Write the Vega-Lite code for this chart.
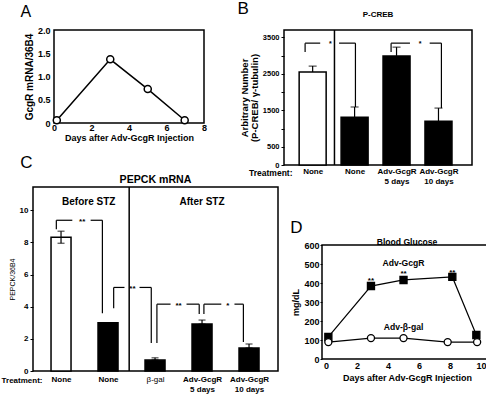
{
"$schema":"https://vega.github.io/schema/vega-lite/v6.json",
"background":"white",
"padding":{"left":0,"top":0,"right":0,"bottom":0},
"config":{
 "font":"Liberation Sans",
 "view":{"stroke":null},
 "axis":{"grid":false,"domain":false,"labelColor":"black","titleColor":"black","tickColor":"black","labelFontWeight":"bold","titleFontWeight":"bold","labelFlush":false,"labelOverlap":false,"tickCount":50},
 "title":{"color":"black","fontWeight":"bold","baseline":"alphabetic"}
},
"hconcat":[
 {"vconcat":[
  {"hconcat":[
   {"width":1,"height":1,"data":{"values":[]},"mark":{"type":"point","opacity":0}},
   {"width":150,"height":93,"view":{"stroke":"black","strokeWidth":1.5},
    "title":{"text":"A","anchor":"start","frame":"bounds","fontSize":16,"fontWeight":"normal","offset":6,"dx":-4},
    "data":{"values":[{"day":0.15,"v":0.06},{"day":3.0,"v":1.37},{"day":5.0,"v":0.73},{"day":6.97,"v":0.06}]},
    "encoding":{
     "x":{"field":"day","type":"quantitative","scale":{"domain":[0,8],"nice":false},"axis":{"values":[0,2,4,6,8],"tickCount":50,"format":"d","title":"Days after Adv-GcgR Injection","labelFontSize":9,"titleFontSize":9,"ticks":false,"labelPadding":0,"titlePadding":1}},
     "y":{"field":"v","type":"quantitative","scale":{"domain":[0,2],"nice":false},"axis":{"values":[0,0.5,1,1.5,2],"tickCount":50,"labelExpr":"datum.value==0?'0':datum.value==1?'1.0':datum.value==2?'2.0':''+datum.value","title":"GcgR mRNA/36B4","labelFontSize":9,"titleFontSize":10,"ticks":false,"labelPadding":4,"titlePadding":3}}
    },
    "layer":[
     {"mark":{"type":"line","color":"black","strokeWidth":1.5}},
     {"mark":{"type":"point","shape":"circle","filled":true,"fill":"white","stroke":"black","strokeWidth":1.5,"size":50,"opacity":1}}
    ]}
  ],"spacing":-15},
  {"title":{"text":"C","anchor":"start","frame":"bounds","fontSize":17,"fontWeight":"normal","offset":2,"dx":20},
   "vconcat":[
   {"width":245,"height":184,"view":{"stroke":"black","strokeWidth":1.5},
    "title":{"text":"PEPCK mRNA","anchor":"middle","frame":"group","fontSize":10.6,"offset":1},
    "layer":[
     {"data":{"values":[
       {"pos":1,"grp":"ctrl","mean":8.32,"lo":7.95,"hi":8.7},
       {"pos":2,"grp":"treat","mean":3.0,"lo":3.0,"hi":3.0},
       {"pos":3,"grp":"treat","mean":0.68,"lo":0.68,"hi":0.82},
       {"pos":4,"grp":"treat","mean":2.92,"lo":2.92,"hi":3.17},
       {"pos":5,"grp":"treat","mean":1.43,"lo":1.43,"hi":1.68}]},
      "layer":[
       {"mark":{"type":"bar","width":20,"stroke":"black","strokeWidth":1.5},
        "encoding":{
         "x":{"field":"pos","type":"quantitative","scale":{"domain":[0.51,5.51],"nice":false},
          "axis":{"values":[1,2,3,4,5],"tickCount":50,"labelExpr":"datum.value<=2?'None':datum.value==3?'β-gal':datum.value==4?['Adv-GcgR','5 days']:['Adv-GcgR','10 days']","labelFontSize":8,"labelLineHeight":10.5,"labelFontWeight":{"condition":{"test":"datum.value==3","value":"normal"},"value":"bold"},"ticks":false,"labelPadding":4,"title":"Treatment:","titleFontSize":8,"titleX":9,"titleY":9.5,"titleAlign":"right","titleBaseline":"middle"}},
         "y":{"field":"mean","type":"quantitative","scale":{"domain":[0,11.45],"nice":false},
          "axis":{"values":[0,2,4,6,8,10],"tickCount":50,"format":"d","labelFontSize":8,"tickSize":3,"labelPadding":2,"title":"PEPCK/36B4","titleFontSize":7,"titleFontWeight":"normal","titlePadding":4}},
         "color":{"field":"grp","type":"nominal","scale":{"domain":["ctrl","treat","bgal","GcgR"],"range":["white","black","white","black"]},"legend":null}}},
       {"mark":{"type":"rule","color":"black","strokeWidth":1.2},"encoding":{"x":{"field":"pos","type":"quantitative"},"y":{"field":"lo","type":"quantitative"},"y2":{"field":"hi"}}},
       {"mark":{"type":"tick","orient":"horizontal","color":"black","size":7,"thickness":1.2},"encoding":{"x":{"field":"pos","type":"quantitative"},"y":{"field":"hi","type":"quantitative"}}},
       {"mark":{"type":"tick","orient":"horizontal","color":"black","size":7,"thickness":1.2},"encoding":{"x":{"field":"pos","type":"quantitative"},"y":{"field":"lo","type":"quantitative"}}}
      ]},
     {"data":{"values":[{"pos":2.45}]},"mark":{"type":"rule","color":"black","strokeWidth":1.5},"encoding":{"x":{"field":"pos","type":"quantitative"}}},
     {"data":{"values":[
       {"x":0.90,"y":8.82,"x2":0.90,"y2":9.38},{"x":0.90,"y":9.38,"x2":1.24,"y2":9.38},{"x":1.63,"y":9.38,"x2":1.88,"y2":9.38},{"x":1.88,"y":9.38,"x2":1.88,"y2":3.6},
       {"x":2.12,"y":3.9,"x2":2.12,"y2":5.2},{"x":2.12,"y":5.2,"x2":2.35,"y2":5.2},{"x":2.67,"y":5.2,"x2":2.92,"y2":5.2},{"x":2.92,"y":5.2,"x2":2.92,"y2":1.74},
       {"x":3.04,"y":1.74,"x2":3.04,"y2":4.16},{"x":3.04,"y":4.16,"x2":3.33,"y2":4.16},{"x":3.67,"y":4.16,"x2":3.94,"y2":4.16},{"x":3.94,"y":4.16,"x2":3.94,"y2":3.54},
       {"x":4.04,"y":3.54,"x2":4.04,"y2":4.16},{"x":4.04,"y":4.16,"x2":4.41,"y2":4.16},{"x":4.69,"y":4.16,"x2":4.88,"y2":4.16},{"x":4.88,"y":4.16,"x2":4.88,"y2":1.8}]},
      "mark":{"type":"rule","color":"black","strokeWidth":1.2},
      "encoding":{"x":{"field":"x","type":"quantitative"},"y":{"field":"y","type":"quantitative"},"x2":{"field":"x2"},"y2":{"field":"y2"}}},
     {"data":{"values":[{"x":1.45,"y":9.38,"t":"**"},{"x":2.52,"y":5.2,"t":"**"},{"x":3.5,"y":4.16,"t":"**"},{"x":4.55,"y":4.16,"t":"*"}]},
      "mark":{"type":"text","fontSize":8,"fontWeight":"bold","baseline":"middle","dy":2,"color":"black"},
      "encoding":{"x":{"field":"x","type":"quantitative"},"y":{"field":"y","type":"quantitative"},"text":{"field":"t"}}},
     {"data":{"values":[{"x":1.59,"y":10.5,"t":"Before STZ"},{"x":4.0,"y":10.5,"t":"After STZ"}]},
      "mark":{"type":"text","fontSize":10,"fontWeight":"bold","baseline":"middle","color":"black"},
      "encoding":{"x":{"field":"x","type":"quantitative"},"y":{"field":"y","type":"quantitative"},"text":{"field":"t"}}}
    ]}
  ]}
 ],"spacing":10},
 {"vconcat":[
  {"title":{"text":"B","anchor":"start","frame":"bounds","fontSize":17,"fontWeight":"normal","offset":-8,"dx":-1},
   "vconcat":[
   {"width":188,"height":135,"view":{"stroke":"black","strokeWidth":1.5},
    "title":{"text":"P-CREB","anchor":"middle","frame":"group","fontSize":8,"offset":10.5},
    "layer":[
     {"data":{"values":[
       {"pos":1,"grp":"ctrl","mean":2550,"hi":2710},
       {"pos":2,"grp":"treat","mean":1310,"hi":1590},
       {"pos":3,"grp":"treat","mean":2990,"hi":3230},
       {"pos":4,"grp":"treat","mean":1200,"hi":1560}]},
      "layer":[
       {"mark":{"type":"bar","width":27,"stroke":"black","strokeWidth":1.5},
        "encoding":{
         "x":{"field":"pos","type":"quantitative","scale":{"domain":[0.436,4.68],"nice":false},
          "axis":{"values":[1,2,3,4],"tickCount":50,"labelExpr":"datum.value<=2?'None':datum.value==3?['Adv-GcgR','5 days']:['Adv-GcgR','10 days']","labelFontSize":8,"labelLineHeight":10,"ticks":false,"labelPadding":2,"title":"Treatment:","titleFontSize":8.5,"titleX":8,"titleY":7,"titleAlign":"right","titleBaseline":"middle"}},
         "y":{"field":"mean","type":"quantitative","scale":{"domain":[0,3700],"nice":false},
          "axis":{"values":[0,500,1000,1500,2000,2500,3000,3500],"tickCount":50,"labelExpr":"datum.value==0||datum.value%1000==500?''+datum.value:''","labelFontSize":7.5,"tickSize":3,"labelPadding":2,"title":["Arbitrary Number","(P-CREB/ γ-tubulin)"],"titleFontSize":9.5,"titleLineHeight":10,"titlePadding":3}},
         "color":{"field":"grp","type":"nominal","scale":{"domain":["ctrl","treat","bgal","GcgR"],"range":["white","black","white","black"]},"legend":null}}},
       {"mark":{"type":"rule","color":"black","strokeWidth":1.2},"encoding":{"x":{"field":"pos","type":"quantitative"},"y":{"field":"mean","type":"quantitative"},"y2":{"field":"hi"}}},
       {"mark":{"type":"tick","orient":"horizontal","color":"black","size":8,"thickness":1.2},"encoding":{"x":{"field":"pos","type":"quantitative"},"y":{"field":"hi","type":"quantitative"}}}
      ]},
     {"data":{"values":[{"pos":1.52}]},"mark":{"type":"rule","color":"black","strokeWidth":1.5},"encoding":{"x":{"field":"pos","type":"quantitative"}}},
     {"data":{"values":[
       {"x":0.82,"y":3100,"x2":0.82,"y2":3340},{"x":0.82,"y":3340,"x2":1.18,"y2":3340},{"x":1.63,"y":3340,"x2":2.02,"y2":3340},{"x":2.02,"y":3340,"x2":2.02,"y2":1590},
       {"x":2.87,"y":3100,"x2":2.87,"y2":3340},{"x":2.87,"y":3340,"x2":3.32,"y2":3340},{"x":3.79,"y":3340,"x2":4.07,"y2":3340},{"x":4.07,"y":3340,"x2":4.07,"y2":1560}]},
      "mark":{"type":"rule","color":"black","strokeWidth":1.2},
      "encoding":{"x":{"field":"x","type":"quantitative"},"y":{"field":"y","type":"quantitative"},"x2":{"field":"x2"},"y2":{"field":"y2"}}},
     {"data":{"values":[{"x":1.42,"y":3340,"t":"*"},{"x":3.56,"y":3340,"t":"*"}]},
      "mark":{"type":"text","fontSize":7,"fontWeight":"bold","baseline":"middle","dy":1,"color":"black"},
      "encoding":{"x":{"field":"x","type":"quantitative"},"y":{"field":"y","type":"quantitative"},"text":{"field":"t"}}}
    ]}
  ]},
  {"hconcat":[
   {"width":1,"height":1,"data":{"values":[]},"mark":{"type":"point","opacity":0}},
   {"title":{"text":"D","anchor":"start","frame":"bounds","fontSize":17,"fontWeight":"normal","offset":0,"dx":-1},
    "vconcat":[
    {"width":170,"height":114,"view":{"stroke":"black","strokeWidth":1.5},
     "title":{"text":"Blood Glucose","anchor":"middle","frame":"group","fontSize":8.6,"offset":-5.5},
     "layer":[
      {"data":{"values":[
        {"s":"GcgR","day":0.15,"v":116},{"s":"GcgR","day":2.9,"v":384},{"s":"GcgR","day":5.0,"v":416},{"s":"GcgR","day":8.15,"v":432},{"s":"GcgR","day":9.7,"v":126},
        {"s":"bgal","day":0.15,"v":89},{"s":"bgal","day":2.9,"v":110},{"s":"bgal","day":5.0,"v":110},{"s":"bgal","day":7.85,"v":89},{"s":"bgal","day":9.75,"v":89}]},
       "layer":[
        {"mark":{"type":"line","color":"black","strokeWidth":1.2},
         "encoding":{
          "x":{"field":"day","type":"quantitative","scale":{"domain":[-0.26,10.71],"nice":false},"axis":{"values":[0,2,4,6,8,10],"tickCount":50,"format":"d","labelFontSize":9,"ticks":false,"labelPadding":2,"title":"Days after Adv-GcgR Injection","titleFontSize":9,"titlePadding":3}},
          "y":{"field":"v","type":"quantitative","scale":{"domain":[0,600],"nice":false},"axis":{"values":[0,100,200,300,400,500,600],"tickCount":50,"format":"d","labelFontSize":9,"tickSize":2,"labelPadding":1,"title":"mg/dL","titleFontSize":9,"titlePadding":3}},
          "detail":{"field":"s"}}},
        {"mark":{"type":"point","filled":true,"stroke":"black","strokeWidth":1.3,"size":50,"opacity":1},
         "encoding":{
          "x":{"field":"day","type":"quantitative"},
          "y":{"field":"v","type":"quantitative"},
          "shape":{"field":"s","type":"nominal","scale":{"domain":["GcgR","bgal"],"range":["square","circle"]},"legend":null},
          "color":{"field":"s","type":"nominal","scale":{"domain":["ctrl","treat","bgal","GcgR"],"range":["white","black","white","black"]},"legend":null}}}
       ]},
      {"data":{"values":[{"x":2.9,"y":420,"t":"**"},{"x":5.0,"y":460,"t":"**"},{"x":8.15,"y":465,"t":"**"}]},
       "mark":{"type":"text","fontSize":8,"fontWeight":"bold","baseline":"middle","dy":2,"color":"black"},
       "encoding":{"x":{"field":"x","type":"quantitative"},"y":{"field":"y","type":"quantitative"},"text":{"field":"t"}}},
      {"data":{"values":[{"x":5.0,"y":505,"t":"Adv-GcgR"},{"x":5.0,"y":168,"t":"Adv-β-gal"}]},
       "mark":{"type":"text","fontSize":8.6,"fontWeight":"bold","baseline":"middle","color":"black"},
       "encoding":{"x":{"field":"x","type":"quantitative"},"y":{"field":"y","type":"quantitative"},"text":{"field":"t"}}}
     ]}
   ]}
  ],"spacing":5}
 ],"spacing":33}
],
"spacing":-42
}
